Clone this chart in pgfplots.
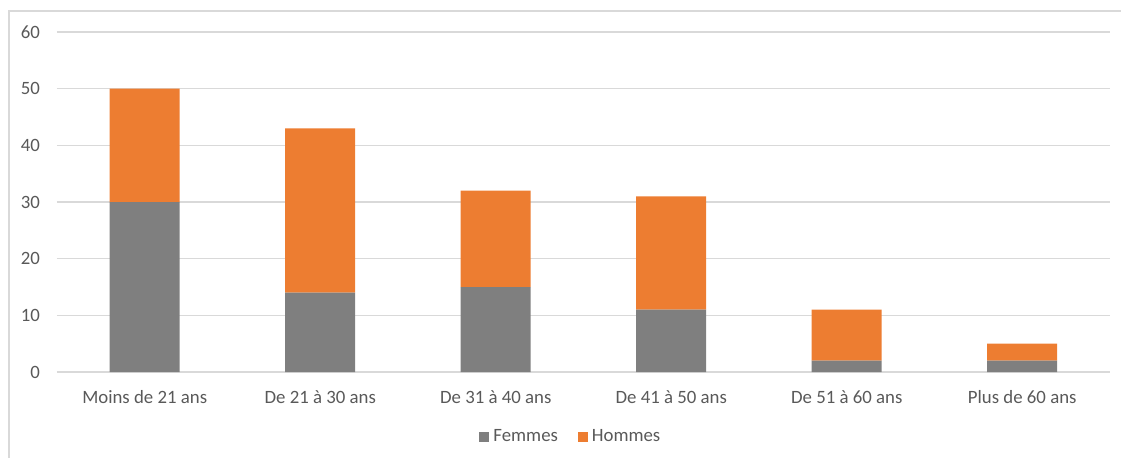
\documentclass[border=0pt]{standalone}
\usepackage{pgfplots}
\pgfplotsset{compat=1.18}
\usepackage{fontspec}
\setmainfont{Carlito}
\definecolor{fem}{HTML}{7F7F7F}
\definecolor{hom}{HTML}{ED7D31}
\definecolor{grid}{HTML}{D9D9D9}
\definecolor{txt}{HTML}{595959}
\begin{document}
\begin{tikzpicture}[x=1pt,y=1pt]
\useasboundingbox (-28.5,186) rectangle (532,-42.5);
\draw[grid,line width=0.6pt] (-24,-50) -- (-24,180.5) -- (540,180.5);
\begin{axis}[
  at={(0,0)}, anchor=south west,
  scale only axis,
  width=526.5pt, height=170pt,
  ybar stacked,
  bar width=35pt,
  xmin=-0.5, xmax=5.5,
  ymin=0, ymax=60,
  ytick={0,10,...,60},
  xtick=data,
  xticklabels={Moins de 21 ans, De 21 à 30 ans, De 31 à 40 ans, De 41 à 50 ans, De 51 à 60 ans, Plus de 60 ans},
  axis x line*=bottom,
  axis y line*=left,
  y axis line style={draw=none},
  x axis line style={draw=grid, line width=0.6pt, -},
  ymajorgrids,
  grid style={draw=grid, line width=0.6pt},
  major tick length=0pt,
  tick style={draw=none},
  ticklabel style={font=\fontsize{9.4}{10}\selectfont, text=txt},
  /pgf/number format/assume math mode=true,
  xticklabel style={yshift=-5.8pt},
  yticklabel style={xshift=-5pt},
  legend style={at={(0.489,-0.191)}, anchor=center, draw=none, fill=none,
    legend columns=2, font=\fontsize{9.4}{10}\selectfont, text=txt,
    /tikz/every even column/.append style={column sep=8pt}},
  legend image code/.code={\fill[#1] (0pt,-2.5pt) rectangle (5pt,2.5pt);},
  clip=false,
]
\addplot[fill=fem, draw=none] coordinates {(0,30) (1,14) (2,15) (3,11) (4,2) (5,2)};
\addplot[fill=hom, draw=none] coordinates {(0,20) (1,29) (2,17) (3,20) (4,9) (5,3)};
\legend{Femmes, Hommes}
\end{axis}
\end{tikzpicture}
\end{document}
